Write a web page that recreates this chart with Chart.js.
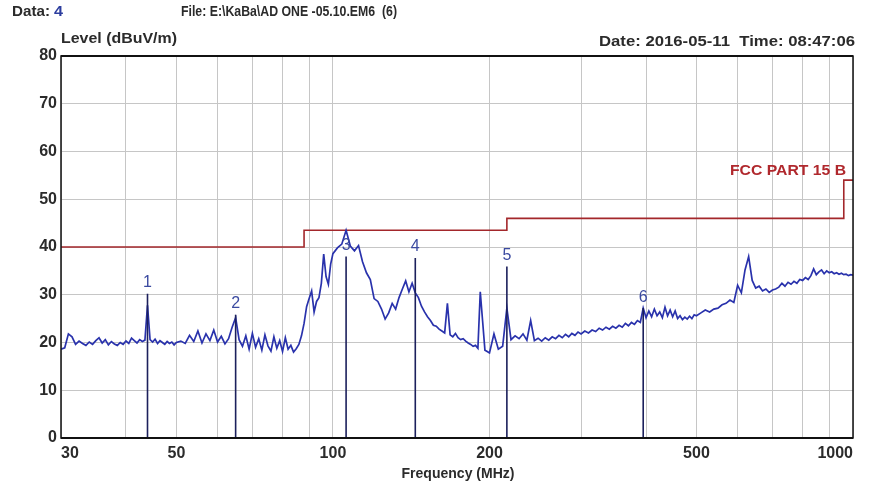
<!DOCTYPE html>
<html><head><meta charset="utf-8">
<script src="https://cdn.jsdelivr.net/npm/chart.js@4.4.1/dist/chart.umd.min.js"></script>
<style>html,body{margin:0;padding:0;background:#fff;}canvas{display:block;}</style>
</head><body>
<canvas id="c" width="869" height="489" style="width:869px;height:489px"></canvas>
<script>
// ---- data ----
const traceFreq = [
30,30.5,31,31.5,32,32.5,33,33.5,34,34.5,
35,35.5,36,36.5,37,37.5,38,38.5,39,39.5,
40,40.5,41,41.5,42,42.5,43,43.5,44,44.5,
45,45.5,46,46.5,47,47.5,48,48.5,49,49.5,
50,51,52,53,54,55,56,57,58,59,
60,61,62,63,64,65,66,67,68,69,
70,71,72,73,74,75,76,77,78,79,
80,81,82,83,84,85,86,87,88,89,
90,91,92,93,94,95,96,97,98,99,
100,102,104,106,108,110,112,114,116,118,
120,122,124,126,128,130,132,134,136,138,
140,142,144,146,148,150,152,154,156,158,
160,162,164,166,168,170,172,174,176,178,
180,182,184,186,188,190,192,194,196,198,
200,204,208,212,216,220,224,228,232,236,
240,244,248,252,256,260,264,268,272,276,
280,284,288,292,296,300,305,310,315,320,
325,330,335,340,345,350,355,360,365,370,
375,380,385,390,395,400,405,410,415,420,
425,430,435,440,445,450,455,460,465,470,
475,480,485,490,495,500,510,520,530,540,
550,560,570,580,590,600,610,620,630,640,
650,660,670,680,690,700,710,720,730,740,
750,760,770,780,790,800,810,820,830,840,
850,860,870,880,890,900,910,920,930,940,
950,960,970,980,990,1000];
const traceLevel = [
18.6,18.9,21.8,21.2,19.6,20.3,19.8,19.4,20.1,19.6,
20.4,21.0,19.9,20.6,19.5,20.2,19.7,19.4,20.0,19.6,
20.3,19.8,20.9,20.4,19.9,20.6,20.2,20.5,27.8,20.6,
20.1,20.7,19.8,20.4,20.0,19.6,20.2,19.8,20.1,19.5,
20.0,20.3,19.8,21.5,20.2,22.4,19.9,21.8,20.4,22.6,
20.1,21.3,19.7,20.8,23.2,25.2,20.6,19.2,21.4,18.6,
21.9,19.0,20.8,18.4,21.6,19.3,18.2,21.2,18.8,20.4,
18.1,21.0,18.6,19.4,18.0,18.7,19.6,21.4,24.0,27.5,
29.2,30.8,26.4,28.6,29.4,32.4,38.5,33.8,32.2,36.4,
38.6,39.8,40.6,43.5,40.2,39.2,40.3,36.9,34.6,33.2,
29.2,28.6,27.0,24.9,26.2,28.2,27.0,29.4,31.2,32.9,
30.6,32.4,30.4,29.4,27.6,26.4,25.4,24.6,23.6,23.4,
22.8,22.4,22.0,28.2,21.6,21.2,21.9,21.0,20.6,20.8,
20.3,19.9,19.6,19.2,19.4,18.8,30.6,24.5,18.4,18.1,
17.8,21.8,18.6,19.2,27.2,20.6,21.4,20.8,21.8,20.5,
24.6,20.4,20.9,20.3,21.0,20.5,21.2,20.8,21.5,21.0,
21.7,21.2,21.9,21.5,22.2,21.8,22.4,22.0,22.6,22.3,
23.0,22.6,23.2,22.8,23.4,23.0,23.6,23.2,24.0,23.5,
24.2,23.8,24.6,24.2,27.2,25.2,26.6,25.4,27.0,25.6,
26.4,25.2,27.4,25.6,26.8,25.4,26.6,25.0,25.6,24.8,
25.3,24.9,25.5,25.0,25.8,25.6,26.2,26.8,26.4,27.0,
27.2,27.9,28.2,28.9,28.4,32.0,30.4,35.2,38.0,33.0,
31.4,31.8,30.8,31.2,30.5,31.0,31.2,31.6,32.4,31.8,
32.6,32.2,32.8,32.4,33.2,33.0,33.6,33.2,34.0,35.4,
34.2,34.8,35.2,34.4,35.0,34.6,34.8,34.4,34.6,34.3,
34.5,34.2,34.3,34.0,34.2,34.1];

const limitFreq  = [30, 88, 88, 216, 216, 960, 960, 1000];
const limitLevel = [40, 40, 43.5, 43.5, 46, 46, 54, 54];
const limitName  = 'FCC PART 15 B';

const markerFreq   = [44, 65, 106, 144, 216, 395];
const markerLevel  = [30.2, 25.8, 38.0, 37.7, 35.9, 27.2];
const markerLabels = ['1', '2', '3', '4', '5', '6'];

const xTickValues = [30,40,50,60,70,80,90,100,200,300,400,500,600,700,800,900,1000];
const xTickLabels = [30,50,100,200,500,1000];
const yTickValues = [0,10,20,30,40,50,60,70,80];

// ---- chart ----
const FONT = '"Liberation Sans", Arial, sans-serif';
const markerData = [];
markerFreq.forEach((f, i) => {
  markerData.push({x: f, y: 0}, {x: f, y: markerLevel[i]}, {x: f, y: null});
});

function fitText(ctx, s, x, y, width, align, font, color) {
  ctx.save();
  ctx.font = font;
  ctx.fillStyle = color;
  ctx.textBaseline = 'alphabetic';
  ctx.textAlign = align;
  const w = ctx.measureText(s).width;
  ctx.translate(x, y);
  ctx.scale(width / w, 1);
  ctx.fillText(s, 0, 0);
  ctx.restore();
}

const decor = {
  id: 'decor',
  afterDatasetsDraw(chart) {
    const {ctx, chartArea: a, scales: {x, y}} = chart;
    ctx.save();
    ctx.font = '16px ' + FONT;
    ctx.fillStyle = '#3b4aa0';
    ctx.textAlign = 'center';
    ctx.textBaseline = 'bottom';
    markerFreq.forEach((f, i) => {
      ctx.fillText(markerLabels[i], x.getPixelForValue(f), y.getPixelForValue(markerLevel[i]) - 3);
    });
    ctx.restore();
    ctx.save();
    ctx.strokeStyle = '#111';
    ctx.lineWidth = 1.5;
    ctx.strokeRect(a.left, a.top, a.right - a.left, a.bottom - a.top);
    ctx.lineWidth = 2;
    ctx.beginPath(); ctx.moveTo(a.left, a.top); ctx.lineTo(a.right, a.top); ctx.stroke();
    ctx.beginPath(); ctx.moveTo(a.left, a.bottom); ctx.lineTo(a.right, a.bottom); ctx.stroke();
    ctx.restore();
  },
  afterDraw(chart) {
    const ctx = chart.ctx;
    const B = 'bold 15px ' + FONT;
    const S = 'bold 14px ' + FONT;
    fitText(ctx, 'Data:', 12, 16, 38, 'left', B, '#2b2b2b');
    fitText(ctx, '4', 54, 16, 9, 'left', B, '#2c3d9e');
    fitText(ctx, 'File: E:\\KaBa\\AD ONE -05.10.EM6  (6)', 181, 16, 216, 'left', S, '#2b2b2b');
    fitText(ctx, 'Level (dBuV/m)', 61, 43, 116, 'left', B, '#2b2b2b');
    fitText(ctx, 'Date: 2016-05-11  Time: 08:47:06', 855, 46, 256, 'right', B, '#2b2b2b');
    fitText(ctx, 'Frequency (MHz)', 458, 478, 113, 'center', B, '#2b2b2b');
    fitText(ctx, limitName, 846, 175, 116, 'right', B, '#b0282d');
  }
};

new Chart(document.getElementById('c').getContext('2d'), {
  type: 'line',
  data: {
    datasets: [
      {label: limitName, data: limitFreq.map((f, i) => ({x: f, y: limitLevel[i]})),
       borderColor: '#a3272b', borderWidth: 1.6, pointRadius: 0, tension: 0, order: 3},
      {label: 'Level', data: traceFreq.map((f, i) => ({x: f, y: traceLevel[i]})),
       borderColor: '#2932ac', borderWidth: 1.7, pointRadius: 0, tension: 0, order: 2},
      {label: 'Markers', data: markerData, borderColor: '#1c205c', borderWidth: 1.6,
       pointRadius: 0, spanGaps: false, order: 1}
    ]
  },
  options: {
    responsive: false, animation: false, devicePixelRatio: 1,
    layout: {padding: {left: 0, right: 16, top: 56, bottom: 0}},
    plugins: {legend: {display: false}, tooltip: {enabled: false}},
    scales: {
      x: {
        type: 'logarithmic', min: 30, max: 1000,
        afterBuildTicks: s => { s.ticks = xTickValues.map(v => ({value: v})); },
        afterFit: s => { s.height = 51; },
        grid: {color: '#c6c6c6', lineWidth: 1, drawTicks: false},
        border: {display: false},
        ticks: {autoSkip: false, maxRotation: 0, minRotation: 0, padding: 6, align: 'inner',
          color: '#2b2b2b', font: {family: FONT, size: 16, weight: 'bold'},
          callback: v => xTickLabels.includes(v) ? String(v) : ''}
      },
      y: {
        min: 0, max: 80,
        afterBuildTicks: s => { s.ticks = yTickValues.map(v => ({value: v})); },
        afterFit: s => { s.width = 61; },
        grid: {color: '#c6c6c6', lineWidth: 1, drawTicks: false},
        border: {display: false},
        ticks: {padding: 4, color: '#2b2b2b', font: {family: FONT, size: 16, weight: 'bold'}}
      }
    }
  },
  plugins: [decor]
});
</script>
</body></html>
